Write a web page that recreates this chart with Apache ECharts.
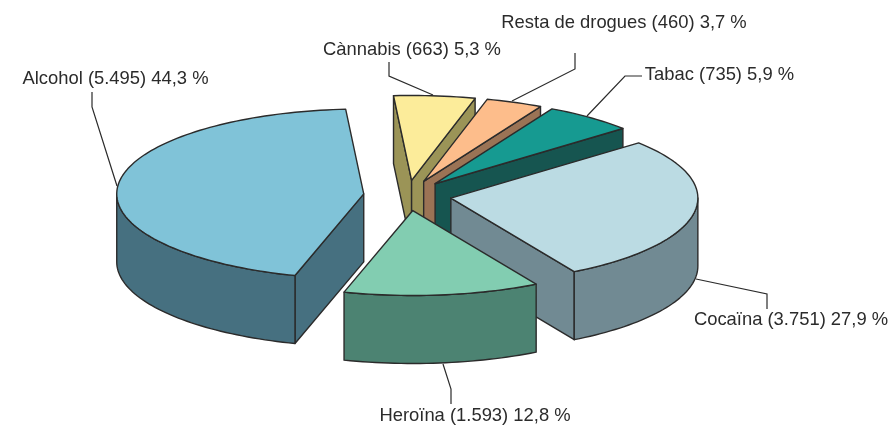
<!DOCTYPE html>
<html><head><meta charset="utf-8">
<style>html,body{margin:0;padding:0;background:#fff}#c{width:896px;height:425px}</style>
<script src="https://cdn.jsdelivr.net/npm/echarts@6/dist/echarts.min.js"></script>
</head><body><div id="c"></div>
<script>
const categories = ['Cànnabis','Resta de drogues','Tabac','Cocaïna','Heroïna','Alcohol'];
const counts     = [663, 460, 735, 3751, 1593, 5495];
const percents   = [5.3, 3.7, 5.9, 27.9, 12.8, 44.3];
const topColors  = ['#fcec9a','#fdbd8b','#169a91','#bbdbe3','#82cdb1','#80c3d8'];
const wallColors = ['#9b9457','#9b7355','#165550','#718a93','#4c8372','#467080'];
const labelAnchors = [[412,50],[624,23],[719.5,75],[791,320],[475,416],[115.5,79]];
const leaderPaths = [
  [[389,62],[389,76],[433,95]],
  [[575,53],[575,69],[512,101]],
  [[642,76],[625,76],[587,116]],
  [[767,309],[767,294],[696,279]],
  [[451,404],[451,389],[443,364]],
  [[92,92],[92,107],[117,186]]
];
const CX=407.5, CY=195.5, R=247, K=0.344, DEPTH=68, EXPLODE=44, START=355.8;
const STROKE='#2b2b2b';
const rad=d=>d*Math.PI/180;
const fmtCount=n=>String(n).replace(/\B(?=(\d{3})+$)/g,'.');
const fmtPct=p=>p.toFixed(1).replace('.',',');
const total=percents.reduce((a,b)=>a+b,0);

let acc=START;
const slices=categories.map((name,i)=>{
  const a0=acc, a1=acc+percents[i]/total*360; acc=a1;
  const mid=rad((a0+a1)/2);
  const ox=CX+EXPLODE*Math.sin(mid), oy=CY-EXPLODE*Math.cos(mid)*K;
  return {i,a0,a1,ox,oy};
});
const order=slices.slice().sort((p,q)=>p.oy-q.oy);

function pt(s,deg,h){const t=rad(deg);return [s.ox+R*Math.sin(t), s.oy-R*Math.cos(t)*K+(h||0)];}
function arc(s,from,to,h){const n=Math.max(2,Math.ceil(Math.abs(to-from)/1.5));const r=[];
  for(let j=0;j<=n;j++)r.push(pt(s,from+(to-from)*j/n,h));return r;}
function poly(points,fill){return {type:'polygon',shape:{points},style:{fill,stroke:STROKE,lineWidth:1.4,lineJoin:'round'}};}

function renderSlice(params,api){
  const s=order[api.value(0)], wall=wallColors[s.i], top=topColors[s.i], kids=[];
  const apex=[s.ox,s.oy], apexB=[s.ox,s.oy+DEPTH];
  for(const [ang,vis] of [[s.a0,Math.sin(rad(s.a0))<0],[s.a1,Math.sin(rad(s.a1))>0]]){
    if(vis){kids.push(poly([apex,pt(s,ang),pt(s,ang,DEPTH),apexB],wall));}
  }
  for(const k of [0,1]){
    const lo=Math.max(s.a0,90+k*360), hi=Math.min(s.a1,270+k*360);
    if(hi>lo){kids.push(poly(arc(s,lo,hi,0).concat(arc(s,hi,lo,DEPTH)),wall));}
  }
  kids.push(poly([apex].concat(arc(s,s.a0,s.a1,0)),top));
  return {type:'group',children:kids};
}
function renderLabel(params,api){
  const i=api.value(0), a=labelAnchors[i];
  return {type:'group',children:[
    {type:'polyline',shape:{points:leaderPaths[i]},style:{fill:'none',stroke:STROKE,lineWidth:1.2}},
    {type:'text',style:{x:a[0],y:a[1],text:categories[i]+' ('+fmtCount(counts[i])+') '+fmtPct(percents[i])+' %',
      fill:'#2b2b2b',font:'18.4px "Liberation Sans", Arial, sans-serif',align:'center',verticalAlign:'middle'}}
  ]};
}
const chart=echarts.init(document.getElementById('c'),null,{renderer:'canvas'});
chart.setOption({
  animation:false,backgroundColor:'#fff',
  series:[
    {type:'custom',coordinateSystem:'none',silent:true,z:2,renderItem:renderSlice,data:order.map((s,j)=>[j])},
    {type:'custom',coordinateSystem:'none',silent:true,z:3,renderItem:renderLabel,data:categories.map((c,i)=>[i])}
  ]
});
</script></body></html>
